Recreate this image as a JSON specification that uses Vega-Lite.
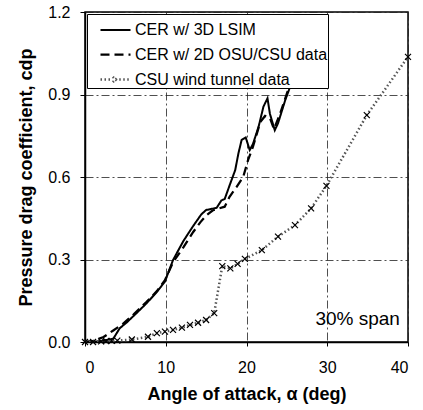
{
  "$schema": "https://vega.github.io/schema/vega-lite/v6.json",
  "width": 323,
  "height": 330,
  "autosize": {"type": "none"},
  "padding": {"left": 85, "top": 12, "right": 15, "bottom": 68},
  "background": "white",
  "config": {
    "font": "Liberation Sans",
    "view": {"stroke": "black", "strokeWidth": 1.5},
    "axis": {
      "domainColor": "black",
      "domainWidth": 1.5,
      "tickColor": "black",
      "labelColor": "black",
      "titleColor": "black",
      "labelFont": "Liberation Sans",
      "titleFont": "Liberation Sans",
      "labelFontSize": 16,
      "titleFontSize": 18,
      "titleFontWeight": "bold",
      "gridColor": "#222",
      "gridWidth": 0.8,
      "gridDash": [8, 3, 2, 3],
      "gridOpacity": 1
    }
  },
  "datasets": {
    "curves": [
      {"series": "CER w/ 3D LSIM", "alpha": 0, "cdp": 0.0},
      {"series": "CER w/ 3D LSIM", "alpha": 1, "cdp": 0.0},
      {"series": "CER w/ 3D LSIM", "alpha": 2, "cdp": 0.004},
      {"series": "CER w/ 3D LSIM", "alpha": 2.8, "cdp": 0.008},
      {"series": "CER w/ 3D LSIM", "alpha": 3.5, "cdp": 0.012},
      {"series": "CER w/ 3D LSIM", "alpha": 4.3, "cdp": 0.05},
      {"series": "CER w/ 3D LSIM", "alpha": 5.2, "cdp": 0.072},
      {"series": "CER w/ 3D LSIM", "alpha": 6.2, "cdp": 0.1},
      {"series": "CER w/ 3D LSIM", "alpha": 7.6, "cdp": 0.14},
      {"series": "CER w/ 3D LSIM", "alpha": 8.9, "cdp": 0.182},
      {"series": "CER w/ 3D LSIM", "alpha": 9.9, "cdp": 0.22},
      {"series": "CER w/ 3D LSIM", "alpha": 10.9, "cdp": 0.298},
      {"series": "CER w/ 3D LSIM", "alpha": 12.2, "cdp": 0.368},
      {"series": "CER w/ 3D LSIM", "alpha": 13.4, "cdp": 0.422},
      {"series": "CER w/ 3D LSIM", "alpha": 14.4, "cdp": 0.464},
      {"series": "CER w/ 3D LSIM", "alpha": 15.0, "cdp": 0.48},
      {"series": "CER w/ 3D LSIM", "alpha": 15.5, "cdp": 0.483},
      {"series": "CER w/ 3D LSIM", "alpha": 16.3, "cdp": 0.488},
      {"series": "CER w/ 3D LSIM", "alpha": 16.9, "cdp": 0.515},
      {"series": "CER w/ 3D LSIM", "alpha": 17.3, "cdp": 0.52},
      {"series": "CER w/ 3D LSIM", "alpha": 18.0, "cdp": 0.577},
      {"series": "CER w/ 3D LSIM", "alpha": 18.6, "cdp": 0.625},
      {"series": "CER w/ 3D LSIM", "alpha": 19.0, "cdp": 0.686},
      {"series": "CER w/ 3D LSIM", "alpha": 19.4, "cdp": 0.735},
      {"series": "CER w/ 3D LSIM", "alpha": 19.9, "cdp": 0.744},
      {"series": "CER w/ 3D LSIM", "alpha": 20.4, "cdp": 0.698},
      {"series": "CER w/ 3D LSIM", "alpha": 20.8, "cdp": 0.72},
      {"series": "CER w/ 3D LSIM", "alpha": 21.5, "cdp": 0.783},
      {"series": "CER w/ 3D LSIM", "alpha": 22.1, "cdp": 0.856},
      {"series": "CER w/ 3D LSIM", "alpha": 22.6, "cdp": 0.886},
      {"series": "CER w/ 3D LSIM", "alpha": 22.9, "cdp": 0.83},
      {"series": "CER w/ 3D LSIM", "alpha": 23.5, "cdp": 0.77},
      {"series": "CER w/ 3D LSIM", "alpha": 23.9, "cdp": 0.795},
      {"series": "CER w/ 3D LSIM", "alpha": 24.8, "cdp": 0.88},
      {"series": "CER w/ 3D LSIM", "alpha": 25.3, "cdp": 0.92},
      {"series": "CER w/ 3D LSIM", "alpha": 25.7, "cdp": 0.96},
      {"series": "CER w/ 2D OSU/CSU data", "alpha": 0, "cdp": 0.0},
      {"series": "CER w/ 2D OSU/CSU data", "alpha": 1.0, "cdp": 0.004},
      {"series": "CER w/ 2D OSU/CSU data", "alpha": 2.3, "cdp": 0.018},
      {"series": "CER w/ 2D OSU/CSU data", "alpha": 3.5, "cdp": 0.042},
      {"series": "CER w/ 2D OSU/CSU data", "alpha": 4.7, "cdp": 0.066},
      {"series": "CER w/ 2D OSU/CSU data", "alpha": 6.0, "cdp": 0.1},
      {"series": "CER w/ 2D OSU/CSU data", "alpha": 7.6, "cdp": 0.145},
      {"series": "CER w/ 2D OSU/CSU data", "alpha": 8.9, "cdp": 0.185},
      {"series": "CER w/ 2D OSU/CSU data", "alpha": 9.9, "cdp": 0.225},
      {"series": "CER w/ 2D OSU/CSU data", "alpha": 10.9, "cdp": 0.29},
      {"series": "CER w/ 2D OSU/CSU data", "alpha": 12.2, "cdp": 0.345},
      {"series": "CER w/ 2D OSU/CSU data", "alpha": 13.4, "cdp": 0.4},
      {"series": "CER w/ 2D OSU/CSU data", "alpha": 14.3, "cdp": 0.436},
      {"series": "CER w/ 2D OSU/CSU data", "alpha": 15.0, "cdp": 0.46},
      {"series": "CER w/ 2D OSU/CSU data", "alpha": 15.8, "cdp": 0.478},
      {"series": "CER w/ 2D OSU/CSU data", "alpha": 16.5, "cdp": 0.485},
      {"series": "CER w/ 2D OSU/CSU data", "alpha": 17.3, "cdp": 0.492},
      {"series": "CER w/ 2D OSU/CSU data", "alpha": 17.9, "cdp": 0.528},
      {"series": "CER w/ 2D OSU/CSU data", "alpha": 18.8, "cdp": 0.565},
      {"series": "CER w/ 2D OSU/CSU data", "alpha": 19.6, "cdp": 0.601},
      {"series": "CER w/ 2D OSU/CSU data", "alpha": 20.2, "cdp": 0.662},
      {"series": "CER w/ 2D OSU/CSU data", "alpha": 20.8, "cdp": 0.71},
      {"series": "CER w/ 2D OSU/CSU data", "alpha": 21.3, "cdp": 0.759},
      {"series": "CER w/ 2D OSU/CSU data", "alpha": 21.7, "cdp": 0.8},
      {"series": "CER w/ 2D OSU/CSU data", "alpha": 22.3, "cdp": 0.822},
      {"series": "CER w/ 2D OSU/CSU data", "alpha": 22.9, "cdp": 0.815},
      {"series": "CER w/ 2D OSU/CSU data", "alpha": 23.4, "cdp": 0.775},
      {"series": "CER w/ 2D OSU/CSU data", "alpha": 24.1, "cdp": 0.825},
      {"series": "CER w/ 2D OSU/CSU data", "alpha": 24.8, "cdp": 0.886},
      {"series": "CER w/ 2D OSU/CSU data", "alpha": 25.3, "cdp": 0.93},
      {"series": "CER w/ 2D OSU/CSU data", "alpha": 25.7, "cdp": 0.96},
      {"series": "CSU wind tunnel data", "alpha": 0, "cdp": 0.0},
      {"series": "CSU wind tunnel data", "alpha": 1, "cdp": 0.0},
      {"series": "CSU wind tunnel data", "alpha": 2, "cdp": 0.002},
      {"series": "CSU wind tunnel data", "alpha": 2.6, "cdp": 0.003},
      {"series": "CSU wind tunnel data", "alpha": 3.3, "cdp": 0.004},
      {"series": "CSU wind tunnel data", "alpha": 4, "cdp": 0.005},
      {"series": "CSU wind tunnel data", "alpha": 5.8, "cdp": 0.009},
      {"series": "CSU wind tunnel data", "alpha": 7.8, "cdp": 0.019},
      {"series": "CSU wind tunnel data", "alpha": 8.9, "cdp": 0.032},
      {"series": "CSU wind tunnel data", "alpha": 9.9, "cdp": 0.038},
      {"series": "CSU wind tunnel data", "alpha": 10.9, "cdp": 0.044},
      {"series": "CSU wind tunnel data", "alpha": 12.0, "cdp": 0.052},
      {"series": "CSU wind tunnel data", "alpha": 13.0, "cdp": 0.062},
      {"series": "CSU wind tunnel data", "alpha": 14.0, "cdp": 0.07},
      {"series": "CSU wind tunnel data", "alpha": 15.0, "cdp": 0.08},
      {"series": "CSU wind tunnel data", "alpha": 16.0, "cdp": 0.105},
      {"series": "CSU wind tunnel data", "alpha": 17.0, "cdp": 0.276},
      {"series": "CSU wind tunnel data", "alpha": 18.0, "cdp": 0.268},
      {"series": "CSU wind tunnel data", "alpha": 18.9, "cdp": 0.284},
      {"series": "CSU wind tunnel data", "alpha": 19.8, "cdp": 0.302},
      {"series": "CSU wind tunnel data", "alpha": 21.9, "cdp": 0.334},
      {"series": "CSU wind tunnel data", "alpha": 23.9, "cdp": 0.383},
      {"series": "CSU wind tunnel data", "alpha": 26.0, "cdp": 0.425},
      {"series": "CSU wind tunnel data", "alpha": 28.0, "cdp": 0.486},
      {"series": "CSU wind tunnel data", "alpha": 29.9, "cdp": 0.568},
      {"series": "CSU wind tunnel data", "alpha": 34.9, "cdp": 0.825},
      {"series": "CSU wind tunnel data", "alpha": 40.0, "cdp": 1.037}
    ],
    "notes": [
      {"label": "30% span"}
    ]
  },
  "layer": [
    {
      "data": {"name": "curves"},
      "mark": {"type": "line", "clip": true},
      "encoding": {
        "x": {
          "field": "alpha", "type": "quantitative",
          "scale": {"domain": [0, 40], "nice": false},
          "axis": {
            "title": "Angle of attack, α (deg)",
            "values": [0, 10, 20, 30, 40],
            "tickSize": 4,
            "labelPadding": 13,
            "titlePadding": 10,
            "grid": true
          }
        },
        "y": {
          "field": "cdp", "type": "quantitative",
          "scale": {"domain": [0, 1.2], "nice": false},
          "axis": {
            "title": "Pressure drag coefficient, cdp",
            "values": [0, 0.3, 0.6, 0.9, 1.2],
            "format": ".1f",
            "tickSize": 5,
            "labelPadding": 10,
            "titlePadding": 12,
            "grid": true
          }
        },
        "color": {
          "field": "series", "type": "nominal",
          "scale": {
            "domain": ["CER w/ 3D LSIM", "CER w/ 2D OSU/CSU data", "CSU wind tunnel data"],
            "range": ["black", "black", "#555"]
          },
          "legend": {
            "title": null,
            "orient": "top-left",
            "offset": 2,
            "zindex": 1,
            "fillColor": "white",
            "strokeColor": "black",
            "padding": 0,
            "symbolOffset": 12,
            "symbolType": "stroke",
            "symbolSize": 900,
            "labelFontSize": 16,
            "labelFont": "Liberation Sans",
            "labelColor": "black",
            "labelOffset": 3,
            "labelLimit": 400,
            "rowPadding": -5.5,
            "encode": {
              "symbols": {
                "update": {
                  "shape": {"signal": "datum.value == 'CSU wind tunnel data' ? 'M-1,0H-0.25M0.25,0H1M-0.18,-0.18L0.18,0.18M-0.18,0.18L0.18,-0.18' : 'stroke'"}
                }
              }
            }
          }
        },
        "strokeDash": {
          "field": "series", "type": "nominal",
          "scale": {
            "domain": ["CER w/ 3D LSIM", "CER w/ 2D OSU/CSU data", "CSU wind tunnel data"],
            "range": [[1, 0], [9, 5], [1.5, 2.5]]
          },
          "legend": null
        },
        "strokeWidth": {
          "field": "series", "type": "nominal",
          "scale": {
            "domain": ["CER w/ 3D LSIM", "CER w/ 2D OSU/CSU data", "CSU wind tunnel data"],
            "range": [2, 2.5, 0.7]
          },
          "legend": null
        }
      }
    },
    {
      "data": {"name": "curves"},
      "transform": [{"filter": "datum.series == 'CSU wind tunnel data'"}],
      "mark": {
        "type": "point",
        "shape": "M-1,-1L1,1M-1,1L1,-1",
        "filled": false,
        "stroke": "black",
        "strokeWidth": 1.2,
        "size": 36,
        "opacity": 1
      },
      "encoding": {
        "x": {"field": "alpha", "type": "quantitative"},
        "y": {"field": "cdp", "type": "quantitative"}
      }
    },
    {
      "data": {"name": "notes"},
      "mark": {"type": "text", "align": "right", "baseline": "middle", "fontSize": 19, "font": "Liberation Sans", "color": "black"},
      "encoding": {
        "x": {"datum": 39},
        "y": {"datum": 0.085},
        "text": {"field": "label"}
      }
    }
  ]
}
